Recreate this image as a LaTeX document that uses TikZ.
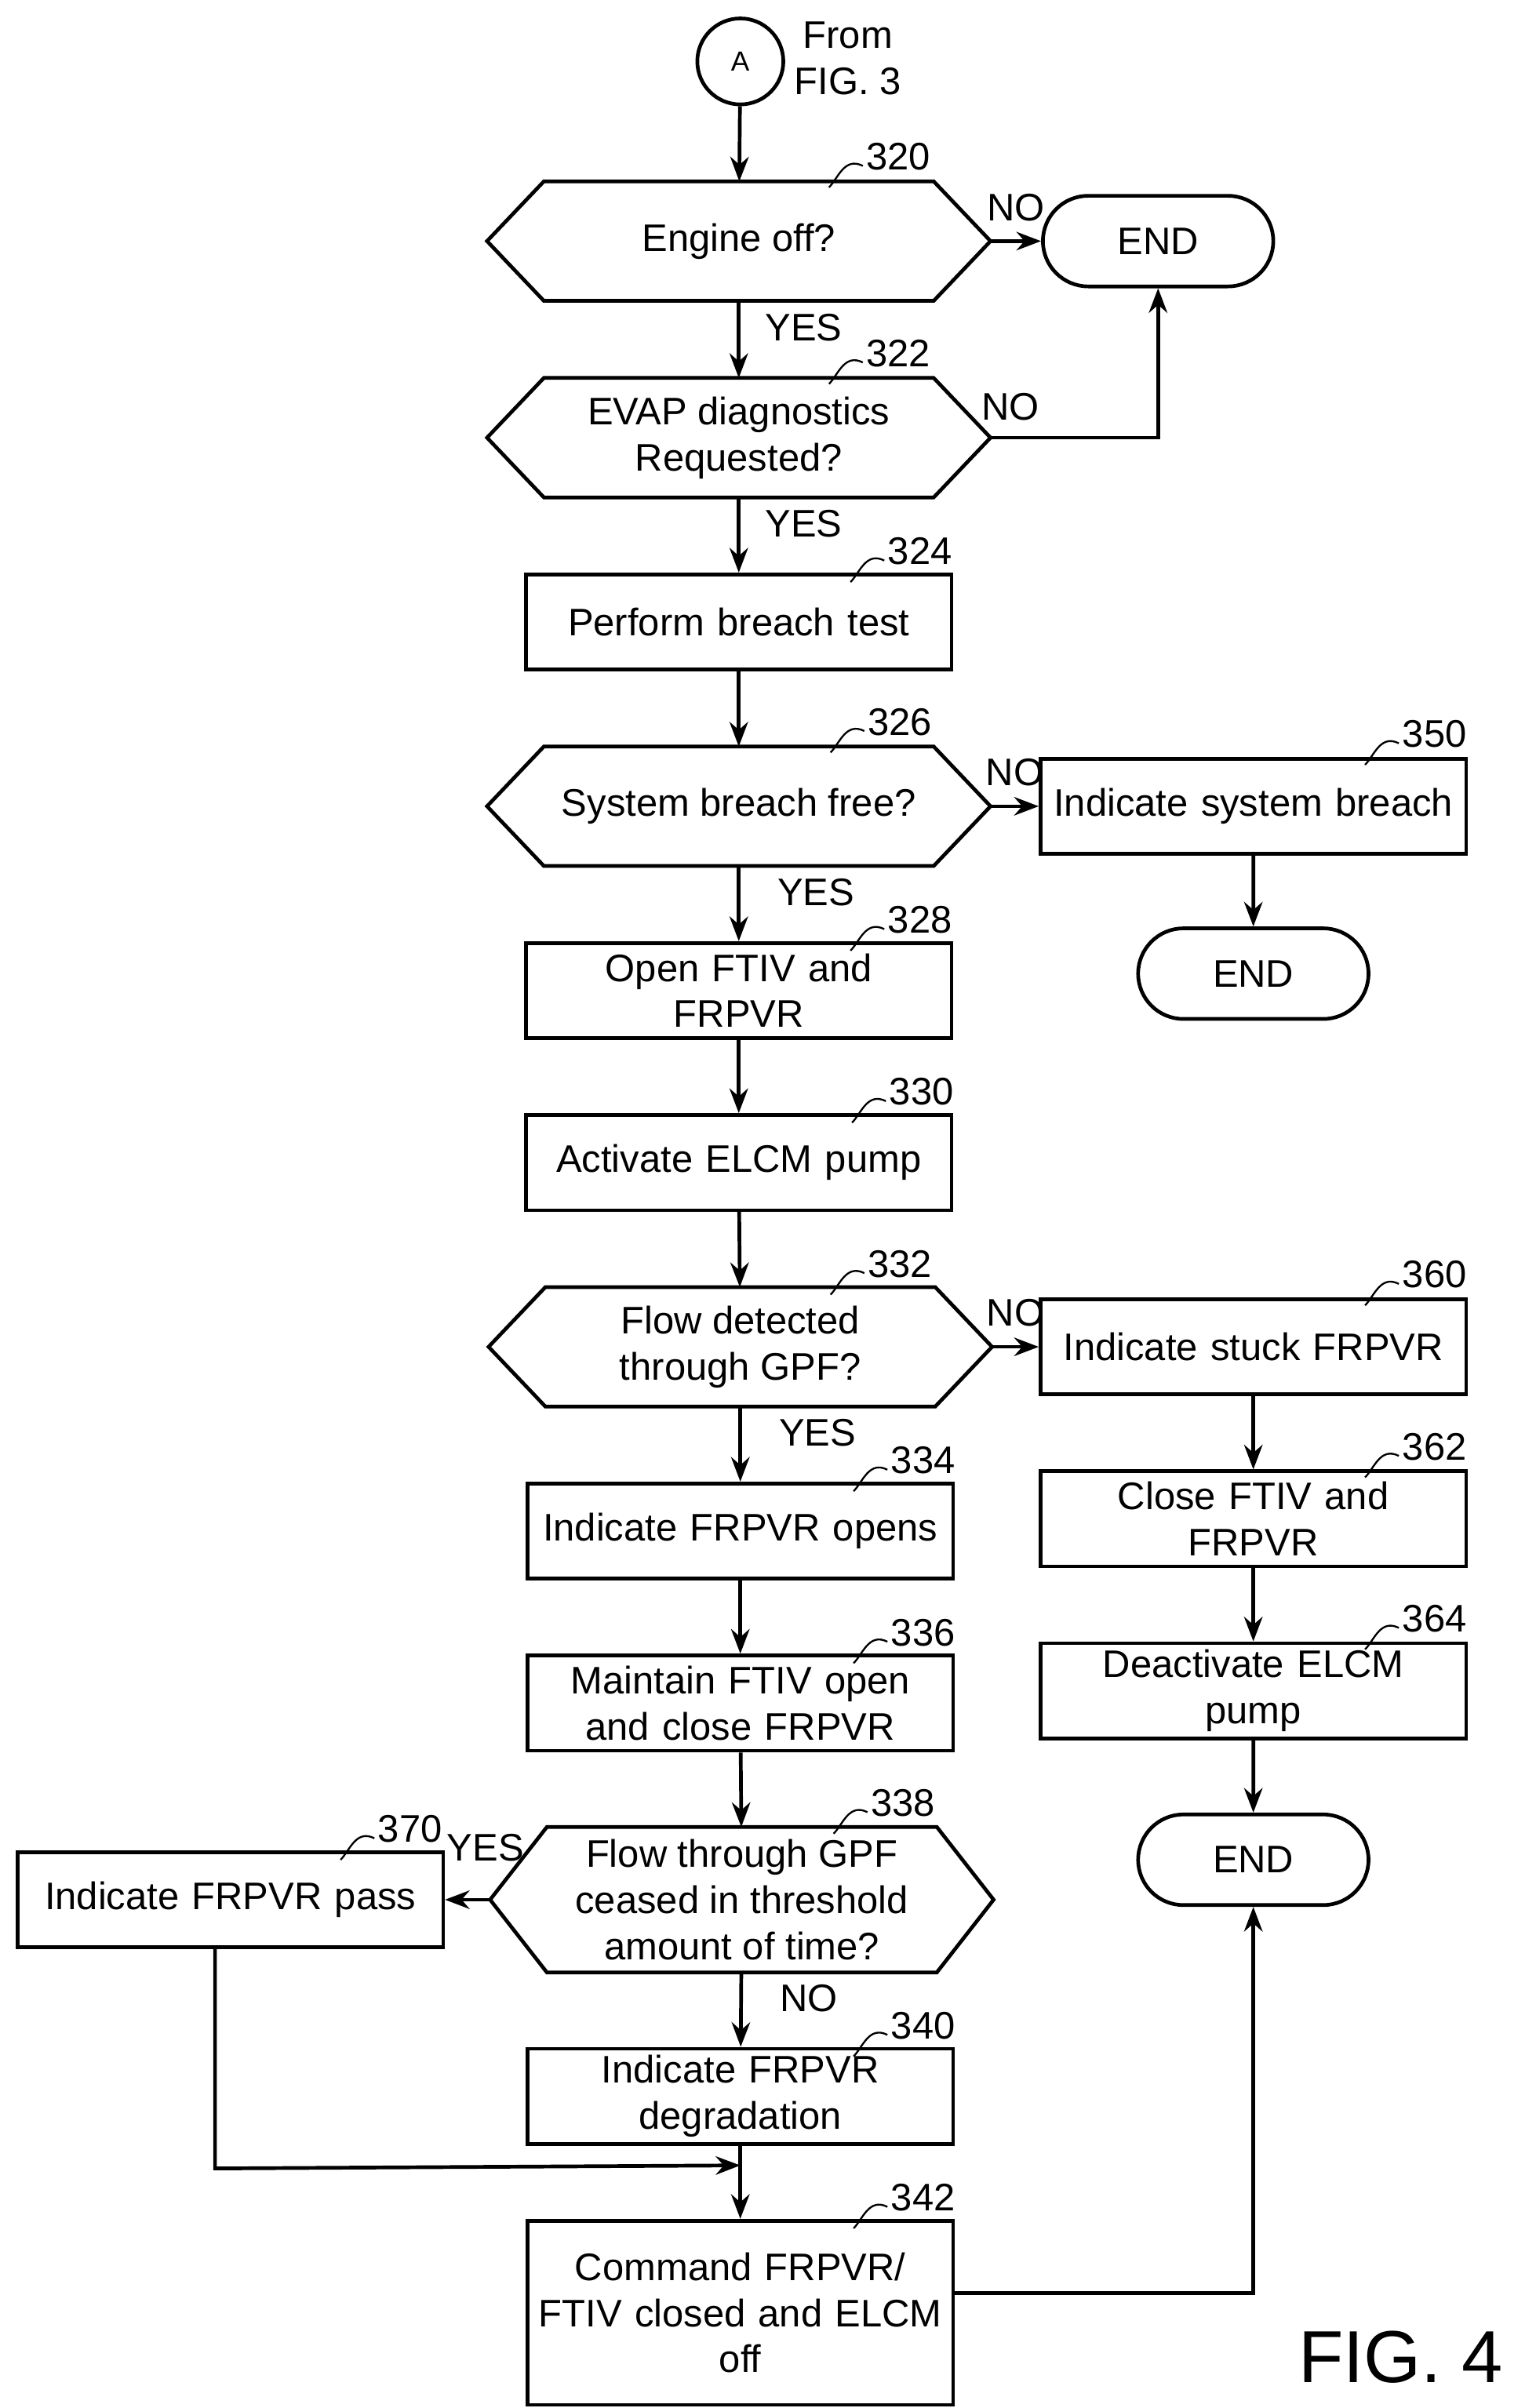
\documentclass[tikz,border=0pt]{standalone}
\usepackage{fontspec}
\setmainfont{Liberation Sans}
\usetikzlibrary{shapes.misc,arrows.meta}
\begin{document}
\begin{tikzpicture}[x=0.5pt,y=-0.5pt,
  every node/.style={font=\fontsize{12.5}{15}\selectfont},
  base/.style={draw,line width=1.2pt,align=center,inner sep=1pt},
  box/.style={base,minimum width=138.5pt,minimum height=31pt,text width=134pt},
  hex/.style={align=center,inner sep=0pt,minimum width=163.5pt,minimum height=38.5pt},
  term/.style={base,rounded rectangle,minimum width=77pt,minimum height=29.5pt},
  ar/.style={line width=1.2pt,-{Stealth[length=8pt,width=6pt]}},
  ln/.style={line width=1.2pt},
  lab/.style={inner sep=0pt},
  sq/.style={line width=0.6pt}]
\useasboundingbox (0,0) rectangle (1000,1568);
\newcommand{\num}[4]{\node[lab] (#1) at (#2,#3) {#4};
  \draw[sq] (#1.west) ++(-2,6) .. controls +(-12,-6) and +(6,-6) .. ++(-22,14);}
\newcommand{\hexd}[1]{\draw[ln] (#1.west) -- ([xshift=18.5pt]#1.north west) -- ([xshift=-18.5pt]#1.north east) -- (#1.east) -- ([xshift=-18.5pt]#1.south east) -- ([xshift=18.5pt]#1.south west) -- cycle;}
\node[base,circle,minimum size=28pt,font=\fontsize{9}{10}\selectfont] (A) at (482,40) {A};
\node[lab,align=center] (from) at (552,38) {From\\FIG. 3};
\node[hex] (n320) at (481,157) {Engine off?};
\node[term] (e1) at (754,157) {END};
\node[hex] (n322) at (481,285) {EVAP diagnostics\\Requested?};
\node[box] (n324) at (481,405) {Perform breach test};
\node[hex] (n326) at (481,525) {System breach free?};
\node[box] (n350) at (816,525) {Indicate system breach};
\node[term] (e2) at (816,634) {END};
\node[box] (n328) at (481,645) {Open FTIV and\\FRPVR};
\node[box] (n330) at (481,757) {Activate ELCM pump};
\node[hex] (n332) at (482,877) {Flow detected\\through GPF?};
\node[box] (n360) at (816,877) {Indicate stuck FRPVR};
\node[box] (n334) at (482,997) {Indicate FRPVR opens};
\node[box] (n362) at (816,989) {Close FTIV and\\FRPVR};
\node[box] (n336) at (482,1109) {Maintain FTIV open\\and close FRPVR};
\node[box] (n364) at (816,1101) {Deactivate ELCM\\pump};
\node[term] (e3) at (816,1211) {END};
\node[hex,minimum height=47pt] (n338) at (483,1237) {Flow through GPF\\ceased in threshold\\amount of time?};
\node[box] (n370) at (150,1237) {Indicate FRPVR pass};
\node[box] (n340) at (482,1365) {Indicate FRPVR\\degradation};
\node[box,minimum height=60pt] (n342) at (482,1506) {Command FRPVR/\\FTIV closed and ELCM\\off};
\node[lab,font=\fontsize{24}{26}\selectfont] (fig) at (912,1535) {FIG. 4};
\hexd{n320}\hexd{n322}\hexd{n326}\hexd{n332}\hexd{n338}
\num{l320}{585}{102}{320}
\num{l322}{585}{230}{322}
\num{l324}{599}{359}{324}
\num{l326}{586}{470}{326}
\num{l350}{934}{478}{350}
\num{l328}{599}{599}{328}
\num{l330}{600}{711}{330}
\num{l332}{586}{823}{332}
\num{l360}{934}{830}{360}
\num{l334}{601}{951}{334}
\num{l362}{934}{942}{362}
\num{l336}{601}{1063}{336}
\num{l364}{934}{1054}{364}
\num{l338}{588}{1174}{338}
\num{l370}{267}{1191}{370}
\num{l340}{601}{1319}{340}
\num{l342}{601}{1431}{342}
\coordinate (c1) at (754,285);
\coordinate (c2) at (140,1412);
\coordinate (c3) at (816,1493);
\draw[ar] (A) -- (n320);
\draw[ar] (n320.east) -- node[lab,above=6pt]{NO} (e1.west);
\draw[ar] (n320) -- node[lab,right=8pt,pos=0.35]{YES} (n322);
\draw[ar] (n322.east) -- (c1) -- (e1.south);
\node[lab] at (658,265) {NO};
\draw[ar] (n322) -- node[lab,right=8pt,pos=0.35]{YES} (n324);
\draw[ar] (n324) -- (n326);
\draw[ar] (n326.east) -- node[lab,above=6pt]{NO} (n350.west);
\draw[ar] (n350) -- (e2);
\draw[ar] (n326) -- node[lab,right=12pt,pos=0.35]{YES} (n328);
\draw[ar] (n328) -- (n330);
\draw[ar] (n330) -- (n332);
\draw[ar] (n332.east) -- node[lab,above=6pt]{NO} (n360.west);
\draw[ar] (n332) -- node[lab,right=12pt,pos=0.35]{YES} (n334);
\draw[ar] (n334) -- (n336);
\draw[ar] (n336) -- (n338);
\draw[ar] (n338.west) -- (n370.east);
\node[lab] at (316,1203) {YES};
\draw[ar] (n338) -- node[lab,right=12pt,pos=0.35]{NO} (n340);
\draw[ar] (n340) -- (n342);
\draw[ar] (n370.south -| c2) -- (c2) -- (482,1410);
\draw[ar] (n342.east |- c3) -- (c3) -- (e3.south);
\draw[ar] (n360) -- (n362);
\draw[ar] (n362) -- (n364);
\draw[ar] (n364) -- (e3);
\end{tikzpicture}
\end{document}
